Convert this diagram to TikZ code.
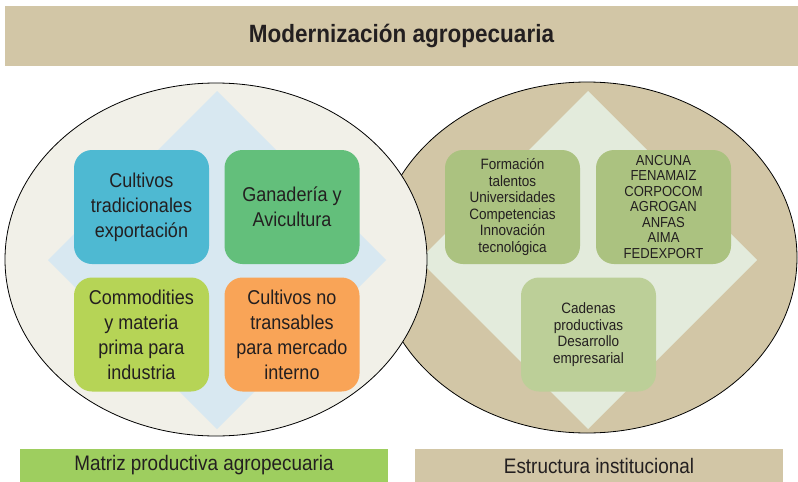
\documentclass[tikz,border=0pt]{standalone}
\usepackage{fontspec}
\setmainfont[FakeStretch=0.9]{Liberation Sans}

\definecolor{cafe}{HTML}{D2C6A6}
\definecolor{crema}{HTML}{F1F0E8}
\definecolor{celeste}{HTML}{D8E8F1}
\definecolor{verdepalido}{HTML}{E3EBDC}
\definecolor{azulcaja}{HTML}{4EB9D2}
\definecolor{verdecaja}{HTML}{63BF7B}
\definecolor{limacaja}{HTML}{B6D456}
\definecolor{naranjacaja}{HTML}{F9A457}
\definecolor{olivacaja}{HTML}{ABC280}
\definecolor{olivaclaro}{HTML}{BCCF98}
\definecolor{verdebarra}{HTML}{9ECE5F}
\definecolor{texto}{HTML}{231F20}

\tikzset{
  caja/.style={rounded corners=18pt, minimum width=135pt, minimum height=114pt,
    align=center, text=texto, inner sep=2pt, font=\fontsize{20}{25}\selectfont},
  cajita/.style={caja, font=\fontsize{15}{16.5}\selectfont},
  franja/.style={minimum width=368pt, minimum height=33pt, inner sep=0pt,
    text=texto, font=\fontsize{21}{25}\selectfont}
}

\begin{document}
\begin{tikzpicture}[x=1pt, y=-1pt]
        \useasboundingbox (0,0) rectangle (798,482);

        % Titulo
        \node[fill=cafe, minimum width=793pt, minimum height=60pt, inner sep=0pt,
          text=texto, font=\bfseries\fontsize{25}{30}\selectfont] (titulo) at (401.5,36) {Modernización agropecuaria};

        % Estructura institucional (atras)
        \draw[fill=cafe, line width=0.8pt] (587,257.5) ellipse [x radius=210pt, y radius=175.5pt];
        \fill[verdepalido] (588,91) -- (757,260) -- (588,429) -- (419,260) -- cycle;

        % Matriz productiva (delante)
        \draw[fill=crema, line width=0.8pt] (216,259.5) ellipse [x radius=211pt, y radius=176.5pt];
        \fill[celeste] (217,91) -- (386,260) -- (217,429) -- (48,260) -- cycle;

        % Cajas matriz
        \node[caja, fill=azulcaja] (tradicionales) at (141.5,207) {Cultivos\\tradicionales\\exportación};
        \node[caja, fill=verdecaja] (ganaderia) at (292,207) {Ganadería y\\Avicultura};
        \node[caja, fill=limacaja] (commodities) at (141.5,334.5) {Commodities\\y materia\\prima para\\industria};
        \node[caja, fill=naranjacaja] (notransables) at (292,334.5) {Cultivos no\\transables\\para mercado\\interno};

        % Cajas estructura
        \node[cajita, fill=olivacaja] (formacion) at (512.5,207) {Formación\\talentos\\Universidades\\Competencias\\Innovación\\tecnológica};
        \node[cajita, fill=olivacaja, font=\fontsize{14.5}{15.5}\selectfont] (gremios) at (663.5,207) {ANCUNA\\FENAMAIZ\\CORPOCOM\\AGROGAN\\ANFAS\\AIMA\\FEDEXPORT};
        \node[cajita, fill=olivaclaro] (cadenas) at (588.5,334.5) {Cadenas\\productivas\\Desarrollo\\empresarial};

        % Franjas de abajo
        \node[franja, fill=verdebarra] (matriz) at (204,465.5) {Matriz productiva agropecuaria};
        \node[franja, fill=cafe] (estructura) at (599,465.5) {Estructura institucional};
    \end{tikzpicture}
\end{document}
